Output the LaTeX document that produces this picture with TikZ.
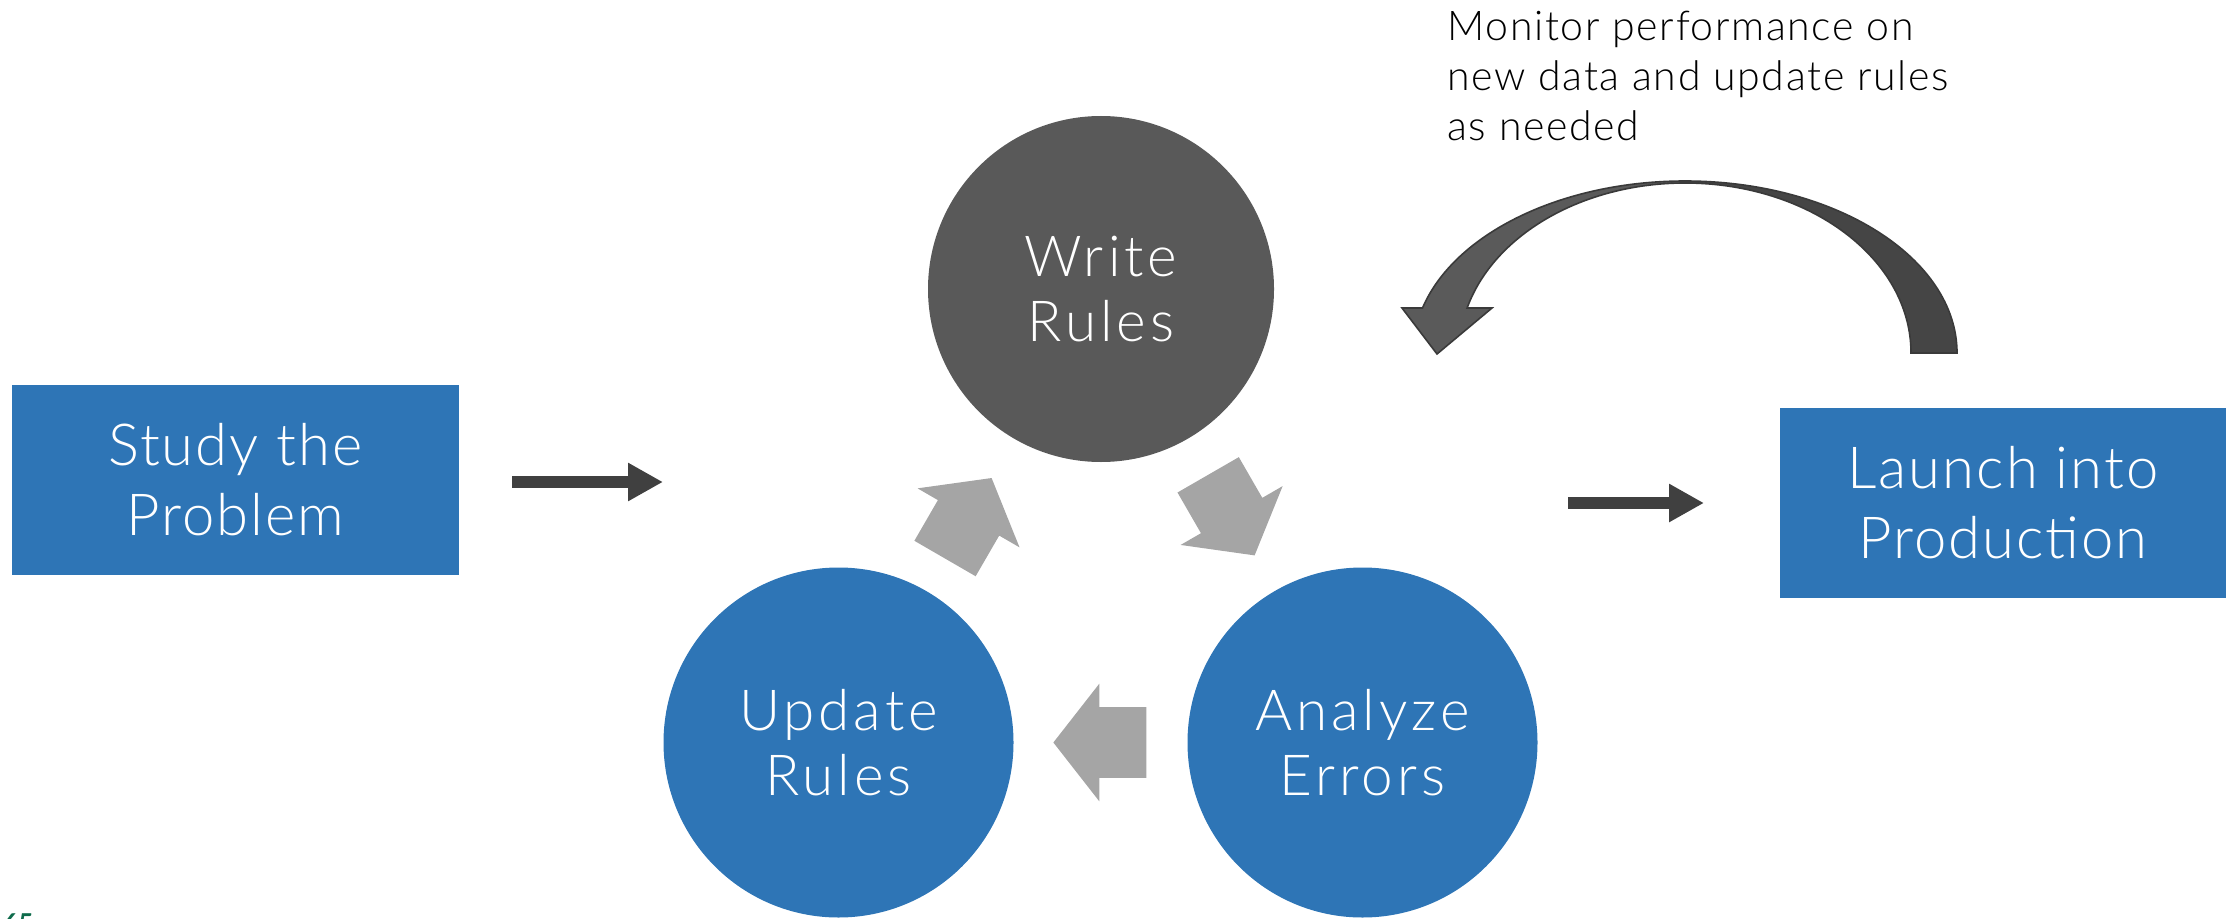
\documentclass[tikz,border=0pt]{standalone}
\usepackage{fontspec}
\setmainfont{Lato}[UprightFont={* Light}, BoldFont={* Bold}]
\usetikzlibrary{shapes.arrows,arrows.meta}

\definecolor{stepblue}{HTML}{2E75B6}
\definecolor{writegray}{HTML}{595959}
\definecolor{cyclegray}{HTML}{A5A5A5}
\definecolor{flowdark}{HTML}{404040}
\definecolor{loopfront}{HTML}{5A5A5A}
\definecolor{loopback}{HTML}{454545}
\definecolor{loopedge}{HTML}{3A3A3A}
\definecolor{pagegreen}{HTML}{0E6B4B}

\begin{document}
\begin{tikzpicture}[x=0.5pt, y=0.5pt,
  box/.style = {rectangle, fill=stepblue, text=white, align=center,
    inner sep=0pt, minimum height=95pt,
    font=\fontsize{29}{35}\selectfont\addfontfeatures{LetterSpace=3.5}},
  bubble/.style = {circle, fill=stepblue, text=white, align=center,
    inner sep=0pt,
    font=\fontsize{28.3}{32.5}\selectfont\addfontfeatures{LetterSpace=7}},
  cyclearrow/.style = {single arrow, fill=cyclegray, sloped,
    anchor=tail, pos=0.233,
    minimum height=46.5pt, single arrow head extend=11.75pt,
    single arrow tip angle=104, inner xsep=0pt, inner ysep=17.5pt,
    text height=0pt, text depth=0pt, text width=0pt},
  flow/.style = {draw=flowdark, line width=6pt,
    -{Triangle[length=17.5pt, width=18pt]}}]

  \useasboundingbox (0,0) rectangle (2236,918);

  % the two ends of the process
  \node[box, minimum width=223.5pt] (study) at (235.5,438) {Study the\\Problem};
  \node[box, minimum width=223pt] (launch) at (2003,415) {Launch into\\Production};

  % the rule writing cycle
  \node[bubble, fill=writegray, minimum size=173pt] (write) at (1101,629) {Write\\Rules};
  \node[bubble, minimum size=175pt] (analyze) at (1362.5,175.5) {Analyze\\Errors};
  \node[bubble, minimum size=175pt] (update) at (838.5,175.5) {Update\\Rules};

  \path (update) -- node[cyclearrow, pos=0.21] (toWrite) {} (write);
  \path (write) -- node[cyclearrow] (toAnalyze) {} (analyze);
  \path (analyze) -- node[cyclearrow, allow upside down] (toUpdate) {} (update);

  % into and out of the cycle
  \coordinate (inStart) at (512,436);
  \coordinate (inEnd) at (663,436);
  \coordinate (outStart) at (1568,415);
  \coordinate (outEnd) at (1704,415);
  \draw[flow] (inStart) -- (inEnd);
  \draw[flow] (outStart) -- (outEnd);

  % feedback arrow from production back to writing rules
  \filldraw[fill=loopback, draw=loopedge, line width=0.8pt]
    (1957,565) arc[start angle=0, end angle=90, x radius=272, y radius=172]
    -- (1685,735) arc[start angle=90, end angle=0, x radius=226, y radius=170]
    -- cycle;
  \filldraw[fill=loopfront, draw=loopedge, line width=0.8pt]
    (1685,737) arc[start angle=90, end angle=164.83, x radius=272, y radius=172]
    -- (1402,610) -- (1437,564) -- (1492,610) -- (1467.1,610)
    arc[start angle=164.65, end angle=90, x radius=226, y radius=170]
    -- cycle;

  \node[anchor=north west, inner sep=0pt, align=left,
    font=\fontsize{20.5}{25}\selectfont\addfontfeatures{LetterSpace=4}]
    (monitor) at (1447,907)
    {Monitor performance on\\new data and update rules\\as needed};

  % page number, cut off by the page edge
  \node[anchor=north west, inner sep=0pt, text=pagegreen,
    font=\fontsize{13}{15}\selectfont\bfseries] (pagenum) at (3,5) {65};
\end{tikzpicture}
\end{document}
